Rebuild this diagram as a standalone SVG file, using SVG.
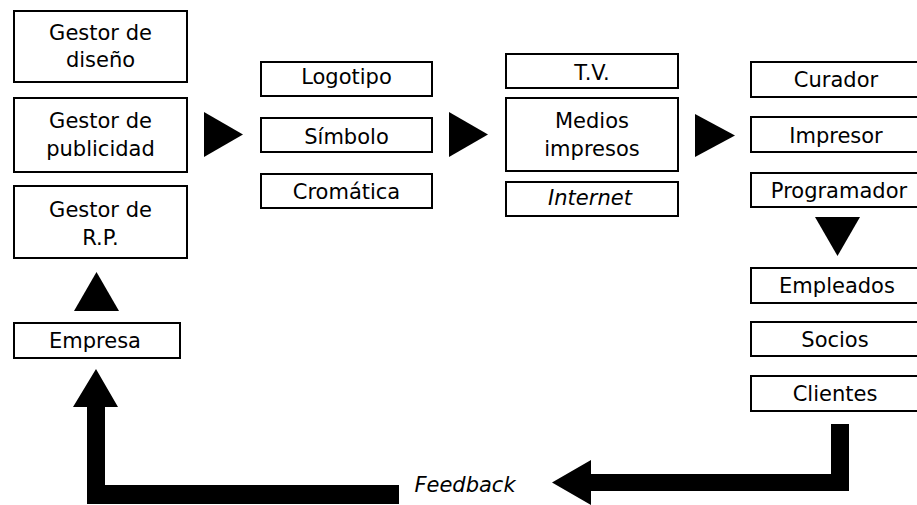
<svg xmlns="http://www.w3.org/2000/svg" width="917" height="505" viewBox="0 0 917 505">
  <style>
    .box { fill: #fff; stroke: #000; stroke-width: 2; }
    .lbl { font-family: "DejaVu Sans", "Liberation Sans", sans-serif; font-size: 21px; fill: #000; text-anchor: middle; }
    .it { font-style: italic; }
    .arrow { fill: #000; stroke: none; }
  </style>
  <rect width="917" height="505" fill="#fff"/>

  <!-- Managers -->
  <g id="gestor-diseno">
    <rect class="box" x="14" y="11" width="173" height="71"/>
    <text class="lbl" x="100.5" y="40">Gestor de</text>
    <text class="lbl" x="100.5" y="67">diseño</text>
  </g>
  <g id="gestor-publicidad">
    <rect class="box" x="14" y="98" width="173" height="74"/>
    <text class="lbl" x="100.5" y="128">Gestor de</text>
    <text class="lbl" x="100.5" y="156">publicidad</text>
  </g>
  <g id="gestor-rp">
    <rect class="box" x="14" y="186" width="173" height="72"/>
    <text class="lbl" x="100.5" y="217">Gestor de</text>
    <text class="lbl" x="100.5" y="245">R.P.</text>
  </g>
  <g id="empresa">
    <rect class="box" x="14" y="323" width="166" height="35"/>
    <text class="lbl" x="95" y="348">Empresa</text>
  </g>

  <!-- Identity -->
  <g id="logotipo">
    <rect class="box" x="261" y="62" width="171" height="34"/>
    <text class="lbl" x="346.5" y="84">Logotipo</text>
  </g>
  <g id="simbolo">
    <rect class="box" x="261" y="118" width="171" height="34"/>
    <text class="lbl" x="346.5" y="144">Símbolo</text>
  </g>
  <g id="cromatica">
    <rect class="box" x="261" y="174" width="171" height="34"/>
    <text class="lbl" x="346.5" y="199">Cromática</text>
  </g>

  <!-- Media -->
  <g id="tv">
    <rect class="box" x="506" y="54" width="172" height="34"/>
    <text class="lbl" x="592" y="80">T.V.</text>
  </g>
  <g id="medios-impresos">
    <rect class="box" x="506" y="98" width="172" height="73"/>
    <text class="lbl" x="592" y="128">Medios</text>
    <text class="lbl" x="592" y="156">impresos</text>
  </g>
  <g id="internet">
    <rect class="box" x="506" y="182" width="172" height="34"/>
    <text class="lbl it" x="590" y="205">Internet</text>
  </g>

  <!-- Producers -->
  <g id="curador">
    <rect class="box" x="751" y="62" width="180" height="35"/>
    <text class="lbl" x="836" y="87">Curador</text>
  </g>
  <g id="impresor">
    <rect class="box" x="751" y="117" width="180" height="35"/>
    <text class="lbl" x="836" y="143">Impresor</text>
  </g>
  <g id="programador">
    <rect class="box" x="751" y="173" width="180" height="34"/>
    <text class="lbl" x="839" y="198">Programador</text>
  </g>

  <!-- Audiences -->
  <g id="empleados">
    <rect class="box" x="751" y="268" width="180" height="35"/>
    <text class="lbl" x="837" y="293">Empleados</text>
  </g>
  <g id="socios">
    <rect class="box" x="751" y="322" width="180" height="34"/>
    <text class="lbl" x="835" y="347">Socios</text>
  </g>
  <g id="clientes">
    <rect class="box" x="751" y="376" width="180" height="35"/>
    <text class="lbl" x="835" y="401">Clientes</text>
  </g>

  <!-- Connectors -->
  <g id="connectors">
    <polygon class="arrow" points="204,112 243,134.5 204,157"/>
    <polygon class="arrow" points="449,112 488,134.5 449,157"/>
    <polygon class="arrow" points="695,114 735,135.5 695,157"/>
    <polygon class="arrow" points="815,217 860,217 837.5,256"/>
    <polygon class="arrow" points="74,311 119,311 96.5,272"/>
    <!-- feedback loop: right half -->
    <polygon class="arrow" points="831,424 849,424 849,491 591,491 591,505 552,482.5 591,460 591,474 831,474"/>
    <!-- feedback loop: left half -->
    <polygon class="arrow" points="399,485 399,504 87,504 87,407 73,407 96,369 118,407 105,407 105,485"/>
    <text class="lbl it" x="465" y="492">Feedback</text>
  </g>
</svg>
